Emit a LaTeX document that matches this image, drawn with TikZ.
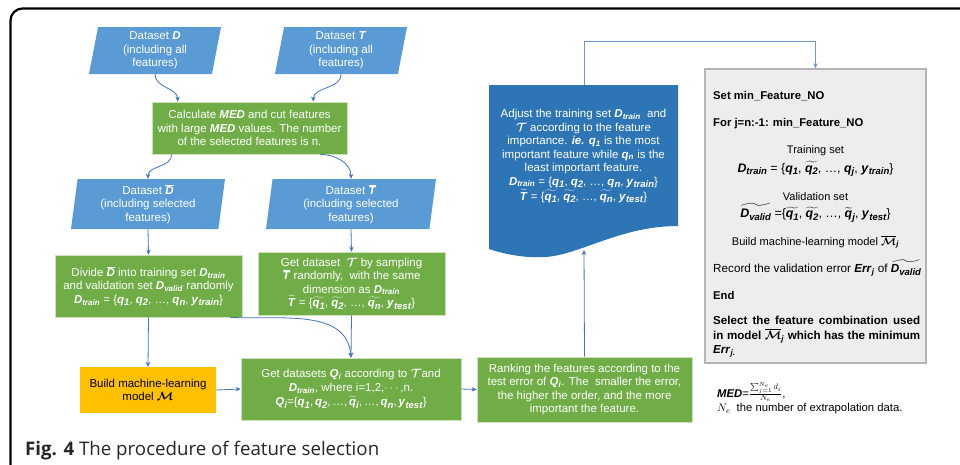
\documentclass[tikz,border=0pt]{standalone}
\usepackage{fontspec}
\setmainfont{Liberation Sans}
\newfontfamily\capfont{Open Sans}
\usepackage{amsmath,amssymb}
\usepackage{xcolor}
\usetikzlibrary{arrows.meta,shapes.geometric,calc}

\definecolor{dsblue}{HTML}{5B9BD5}
\definecolor{stepgreen}{HTML}{70AD47}
\definecolor{modelorange}{HTML}{FFC000}
\definecolor{docblue}{HTML}{2E75B6}
\definecolor{arrowblue}{HTML}{4472C4}
\definecolor{loopgrey}{HTML}{EDEDED}
\definecolor{loopedge}{HTML}{B4B4B4}

\newcommand{\bi}[1]{\textbf{\textit{#1}}}
\newcommand{\sbi}[1]{\textsubscript{\bi{#1}}}
\newcommand{\lbi}[1]{\raisebox{-2.5pt}{\fontsize{9.5}{9.5}\selectfont\bi{#1}}}
\newcommand{\calT}{\mbox{\boldmath$\mathcal{T}$}}
\newcommand{\calM}{\mbox{\boldmath$\mathcal{M}$}}
\newcommand{\ovl}[1]{$\overline{\mbox{#1}}$}
\newcommand{\tld}[1]{$\widetilde{\mbox{#1}}$}
\newcommand{\fsz}[1]{\fontsize{#1}{13.5}\selectfont}

\begin{document}
\begin{tikzpicture}[
	x=1pt,y=-1pt,
	>={Stealth[length=5pt,width=4.5pt]},
	every node/.style={font=\fsz{11.5}, inner sep=1pt, align=center},
	dataset/.style={trapezium, trapezium left angle=77, trapezium right angle=103,
		trapezium stretches body, fill=dsblue, text=white, minimum height=47},
	stepbox/.style={rectangle, fill=stepgreen, draw=stepgreen!35!white, line width=0.7, text=white},
	modelbox/.style={rectangle, fill=modelorange, text=black},
	loopbox/.style={rectangle, fill=loopgrey, draw=loopedge, line width=1.4},
	flow/.style={->, arrowblue, line width=0.8},
	looptext/.style={anchor=west, text=black, font=\fsz{11.3}}
	]
	\useasboundingbox (0,0) rectangle (960,464);
	\begin{scope}
		\clip (0,0) rectangle (960,464);
		\draw[line width=2.2, rounded corners=12] (10.5,480) -- (10.5,8.5) -- (980,8.5);
	\end{scope}
	
	% datasets
	\node[dataset, minimum width=132] (dsD) at (155,50.5) {Dataset \bi{D}\\(including all\\features)};
	\node[dataset, minimum width=132] (dsT) at (341,50.5) {Dataset \bi{T}\\(including all\\features)};
	
	\node[stepbox, minimum width=195, minimum height=52] (med) at (249.5,128)
	{Calculate \bi{MED} and cut features\\with large \bi{MED} values. The number\\of the selected features is n.};
	
	\node[dataset, trapezium left angle=81, trapezium right angle=99, minimum width=154, minimum height=50] (dsDb) at (148,204)
	{Dataset \ovl{\bi{D}}\\(including selected\\features)};
	\node[dataset, trapezium left angle=81, trapezium right angle=99, minimum width=170, minimum height=50] (dsTb) at (351,204)
	{Dataset \ovl{\bi{T}}\\(including selected\\features)};
	
	\node[stepbox, minimum width=187, minimum height=62] (divide) at (148.5,286)
	{Divide \ovl{\bi{D}} into training set \bi{D}\sbi{train}\\and validation set \bi{D}\sbi{valid} randomly\\
		\bi{D}\sbi{train} = \{\bi{q}\lbi{1}, \bi{q}\lbi{2}, \dots, \bi{q}\lbi{n}, \bi{y}\lbi{train}\}};
	\node[stepbox, minimum width=187, minimum height=63] (gett) at (351.5,283.5)
	{Get dataset \ \calT\ by sampling\\\ovl{\bi{T}} randomly, \ with the same\\dimension as \bi{D}\sbi{train}\\
		\tld{\bi{T}} = \{\tld{\bi{q}\lbi{1}}, \tld{\bi{q}\lbi{2}}, \dots, \tld{\bi{q}\lbi{n}}, \bi{y}\lbi{test}\}};
	
	\node[modelbox, minimum width=136, minimum height=46] (build) at (148,390) {Build machine-learning\\model \calM};
	
	\node[stepbox, minimum width=220, minimum height=62] (getq) at (351,389)
	{Get datasets \bi{Q}\sbi{i} according to \calT and\\\bi{D}\sbi{train}, where i=1,2,$\cdots$,n.\\[1pt]
		{\bi{Q}\lbi{i}=\{\bi{q}\lbi{1},\,\bi{q}\lbi{2},\,\dots,\,\tld{\bi{q}}\lbi{i},\,\dots,\,\bi{q}\lbi{n},\,\bi{y}\lbi{test}\}}};
	
	\node[stepbox, minimum width=215, minimum height=65] (rank) at (584.5,389.5)
	{Ranking the features according to the\\test error of \bi{Q}\sbi{i}. The \ smaller the error,\\the higher the order, and the more\\important the feature.};
	
	% document shape
	\fill[docblue] (489,85) -- (678,85) -- (678,226)
	.. controls (620,226) and (580,255) .. (545,257)
	.. controls (530,258) and (510,256) .. (489,249) -- cycle;
	\coordinate (doctop) at (584,85);
	\coordinate (docbot) at (584,250);
	\node[text=white] (doc) at (583.5,156)
	{Adjust the training set \bi{D}\sbi{train} \ and\\\calT\ according to the feature\\importance. \bi{ie.} \bi{q}\sbi{1} is the most\\
		important feature while \bi{q}\sbi{n} is the\\least important feature.\\
		\bi{D}\sbi{train} = \{\bi{q}\lbi{1}, \bi{q}\lbi{2}, \dots, \bi{q}\lbi{n}, \bi{y}\lbi{train}\}\\
		\tld{\bi{T}} = \{\tld{\bi{q}\lbi{1}}, \tld{\bi{q}\lbi{2}}, \dots, \tld{\bi{q}\lbi{n}}, \bi{y}\lbi{test}\}};
	
	% feature loop
	\node[loopbox, minimum width=221, minimum height=294] (loop) at (815.5,216) {};
	\node[looptext] (l1) at (712,96) {\textbf{Set min\_Feature\_NO}};
	\node[looptext] (l2) at (712,124) {\textbf{For j=n:-1: min\_Feature\_NO}};
	\node[font=\fsz{11}] (l3) at (815.5,151) {Training set};
	\node[font=\fsz{12.4}] (l4) at (815.5,169) {\bi{D}\lbi{train} = \{\bi{q}\lbi{1}, \tld{\bi{q}\lbi{2}}, \dots, \bi{q}\lbi{j}, \bi{y}\lbi{train}\}};
	\node[font=\fsz{11}] (l5) at (815.5,197) {Validation set};
	\node[font=\fsz{12.4}] (l6) at (815.5,213) {\tld{\bi{D}\lbi{valid}} =\{\tld{\bi{q}\lbi{1}}, \tld{\bi{q}\lbi{2}}, \dots, \tld{\bi{q}}\lbi{j}, \bi{y}\lbi{test}\}};
	\node[font=\fsz{11.1}] (l7) at (815.5,242) {Build machine-learning model \ovl{\calM}\sbi{j}};
	\node[looptext, font=\fsz{11.7}] (l8) at (712,268) {Record the validation error \bi{Err}\sbi{j} of \tld{\bi{D}\lbi{valid}}};
	\node[looptext] (l9) at (712,295) {\textbf{End}};
	\node[looptext, font=\fontsize{11.6}{14.5}\selectfont, text width=207, align=justify] (l10) at (712,337)
	{\textbf{Select the feature combination used in model \ovl{\calM}\sbi{j} which has the minimum \bi{Err}\sbi{j.}}};
	
	\node[anchor=west, font=\fsz{11.3}] (medf) at (716,392) {\bi{MED}=$\frac{\sum_{j=1}^{N_e} d_i}{N_e}$,};
	\node[anchor=west, font=\fsz{11.3}] (ne) at (716,409) {$N_e$ \ the number of extrapolation data.};
	
	\node[anchor=base west, font=\capfont\fontsize{18.7}{20}\selectfont, text=black!85] (cap) at (24,455)
	{\textbf{Fig. 4} The procedure of feature selection};
	
	% connectors
	\draw[flow] (dsD.south) to[out=-90,in=90] ([xshift=26]med.north west);
	\draw[flow] (dsT.south) to[out=-90,in=90] ([xshift=-34]med.north east);
	\draw[flow] ([xshift=20]med.south west) to[out=-90,in=90] (dsDb.north);
	\draw[flow] ([xshift=-27]med.south east) to[out=0,in=90] (dsTb.north);
	\draw[flow] (dsDb.south) -- (divide.north);
	\draw[flow] (dsTb.south) -- (gett.north);
	\draw[flow] (divide.south) -- (build.north);
	\draw[flow] ([xshift=-12]divide.south east) to[out=-3,in=95] (getq.north);
	\draw[flow] (gett.south) -- (getq.north);
	\draw[flow] (build.east) -- (getq.west);
	\draw[flow] (getq.east) -- (rank.west);
	\draw[flow] (rank.north) -- (docbot);
	\draw[flow, draw=arrowblue!75] (doctop) -- ++(0,-44) -| (loop.north);
\end{tikzpicture}
\end{document}
